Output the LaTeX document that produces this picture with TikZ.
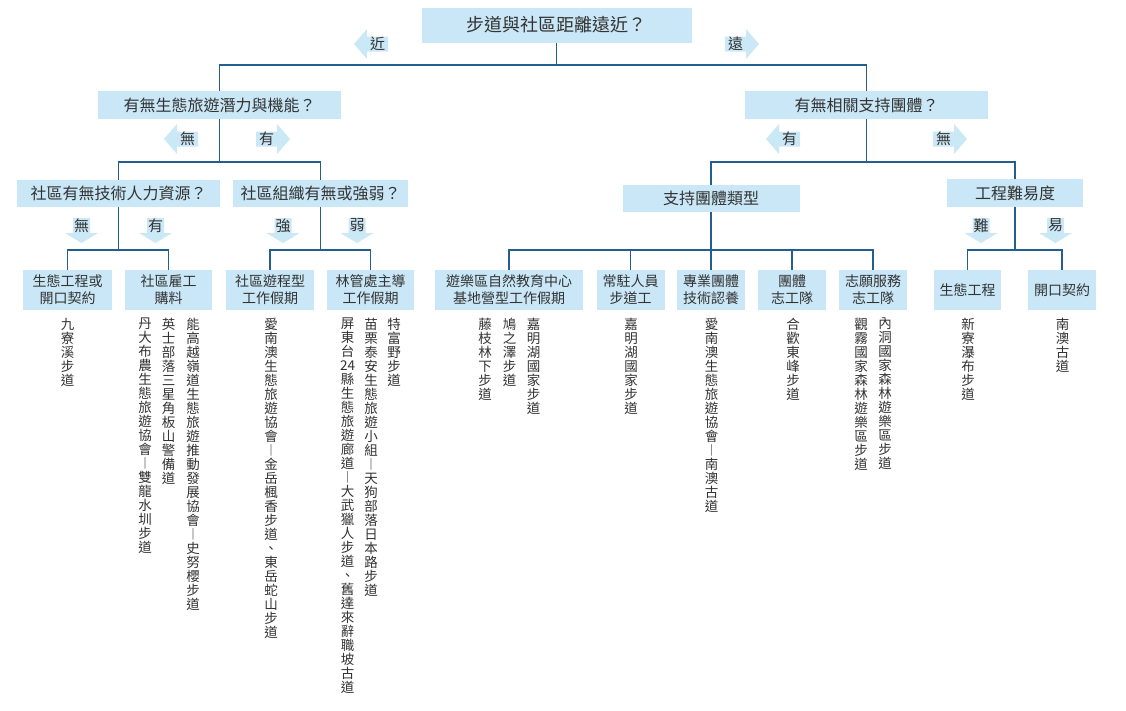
\documentclass[tikz,border=0pt]{standalone}
\usepackage{fontspec}
\newfontfamily\cjk{Noto Sans CJK TC}
\definecolor{boxblue}{HTML}{C9E7F6}
\definecolor{arrowblue}{HTML}{CBE8F7}
\definecolor{linkblue}{HTML}{235E8E}
\definecolor{textgray}{HTML}{333333}
% one column of vertical text, one character per line
\def\shuend{}
\def\shuloop#1{\ifx\shuend#1\else\hbox to 13.5pt{\hss#1\hss}\expandafter\shuloop\fi}
\newcommand\shu[1]{\vtop{\baselineskip=14pt\lineskiplimit=-20pt\shuloop#1\shuend}}
\tikzset{
  box/.style={fill=boxblue,text=textgray,inner sep=0pt,font=\cjk\fontsize{16}{19}\selectfont},
  leaf/.style={box,minimum height=40pt,align=center,font=\cjk\fontsize{14}{17}\selectfont},
  link/.style={draw=linkblue,line width=1.2pt},
  albl/.style={text=textgray,inner sep=0pt,font=\cjk\fontsize{15}{15}\selectfont},
  col/.style={anchor=north,text=textgray,inner sep=0pt,font=\cjk\fontsize{13.5}{14}\selectfont},
  larrow/.style={insert path={++(0,-7.5) -- ++(-21,0) -- ++(0,-7.5) -- ++(-13,15) -- ++(13,15) -- ++(0,-7.5) -- ++(21,0) -- cycle}},
  rarrow/.style={insert path={++(0,-7.5) -- ++(21,0) -- ++(0,-7.5) -- ++(13,15) -- ++(-13,15) -- ++(0,-7.5) -- ++(-21,0) -- cycle}},
  darrow/.style={insert path={++(-8.5,0) -- ++(0,15) -- ++(-8,0) -- ++(16.5,10) -- ++(16.5,-10) -- ++(-8,0) -- ++(0,-15) -- cycle}}
}
\begin{document}
\begin{tikzpicture}[x=1pt,y=-1pt]
\path[use as bounding box,fill=white](0,0)rectangle(1126,710);
% questions
\node[box,minimum width=270pt,minimum height=35pt,font=\cjk\fontsize{18}{20}\selectfont](root)at(556.5,25){步道與社區距離遠近？};
\node[box,minimum width=243pt,minimum height=28pt](q1)at(219.5,105){有無生態旅遊潛力與機能？};
\node[box,minimum width=243pt,minimum height=28pt](q2)at(866.5,105){有無相關支持團體？};
\node[box,minimum width=203pt,minimum height=27pt](q3)at(118.5,193.5){社區有無技術人力資源？};
\node[box,minimum width=175pt,minimum height=27pt](q4)at(320.5,193.5){社區組織有無或強弱？};
\node[box,minimum width=177pt,minimum height=27pt](q5)at(711,198.5){支持團體類型};
\node[box,minimum width=136pt,minimum height=28pt](q6)at(1015,193){工程難易度};
% answers
\node[leaf,minimum width=89pt](a1)at(67.5,290){生態工程或\\開口契約};
\node[leaf,minimum width=87pt](a2)at(168.5,290){社區雇工\\購料};
\node[leaf,minimum width=88pt](a3)at(270,290){社區遊程型\\工作假期};
\node[leaf,minimum width=87pt](a4)at(370.5,290){林管處主導\\工作假期};
\node[leaf,minimum width=148pt](a5)at(509,290){遊樂區自然教育中心\\基地營型工作假期};
\node[leaf,minimum width=68pt](a6)at(630.5,290){常駐人員\\步道工};
\node[leaf,minimum width=68pt](a7)at(711,290){專業團體\\技術認養};
\node[leaf,minimum width=68pt](a8)at(792,290){團體\\志工隊};
\node[leaf,minimum width=68pt](a9)at(873,290){志願服務\\志工隊};
\node[leaf,minimum width=67pt](a10)at(967.5,290){生態工程};
\node[leaf,minimum width=68pt](a11)at(1062,290){開口契約};
% connectors
\coordinate(j0)at(556.5,65);\coordinate(j1)at(219.5,162);\coordinate(j2)at(866.5,162);
\coordinate(j3)at(118.5,250);\coordinate(j4)at(320.5,250);\coordinate(j5)at(711,250);\coordinate(j6)at(1015,250);
\draw[link](root.south)--(j0)-|(q1.north);\draw[link](j0)-|(q2.north);
\draw[link](q1.south)--(j1)-|(q3.north);\draw[link](j1)-|(q4.north);
\draw[link](q2.south)--(j2)-|(q5.north);\draw[link](j2)-|(q6.north);
\draw[link](q3.south)--(j3)-|(a1.north);\draw[link](j3)-|(a2.north);
\draw[link](q4.south)--(j4)-|(a3.north);\draw[link](j4)-|(a4.north);
\draw[link](q5.south)--(j5)-|(a5.north);\draw[link](j5)-|(a6.north);\draw[link](j5)--(a7.north);\draw[link](j5)-|(a8.north);\draw[link](j5)-|(a9.north);
\draw[link](q6.south)--(j6)-|(a10.north);\draw[link](j6)-|(a11.north);
% arrows
\fill[arrowblue](388,44)[larrow];\node[albl](jin)at(377.5,44){近};
\fill[arrowblue](725,44)[rarrow];\node[albl](yuan)at(735.5,44){遠};
\fill[arrowblue](198,139)[larrow];\node[albl](wu1)at(187.5,139){無};
\fill[arrowblue](256,139)[rarrow];\node[albl](you1)at(266.5,139){有};
\fill[arrowblue](800,139)[larrow];\node[albl](you2)at(789.5,139){有};
\fill[arrowblue](933,139)[rarrow];\node[albl](wu2)at(943.5,139){無};
\fill[arrowblue](81.5,218)[darrow];\node[albl](wu3)at(81.5,225.5){無};
\fill[arrowblue](155.5,218)[darrow];\node[albl](you3)at(155.5,225.5){有};
\fill[arrowblue](283,218)[darrow];\node[albl](qiang)at(283,225.5){強};
\fill[arrowblue](357,218)[darrow];\node[albl](ruo)at(357,225.5){弱};
\fill[arrowblue](981,218)[darrow];\node[albl](nan)at(981,225.5){難};
\fill[arrowblue](1055.5,218)[darrow];\node[albl](yi)at(1055.5,225.5){易};
% trails
\node[col](t1)at(67.5,318){\shu{九寮溪步道}};
\node[col](t2)at(193,318){\shu{能高越嶺道生態旅遊推動發展協會︱史努櫻步道}};
\node[col](t3)at(168.5,318){\shu{英士部落三星角板山警備道}};
\node[col](t4)at(145,318){\shu{丹大布農生態旅遊協會︱雙龍水圳步道}};
\node[col](t5)at(271,318){\shu{愛南澳生態旅遊協會︱金岳楓香步道、東岳蛇山步道}};
\node[col](t6)at(394,318){\shu{特富野步道}};
\node[col](t7)at(371,318){\shu{苗栗泰安生態旅遊小組︱天狗部落日本路步道}};
\node[col](t8)at(347.5,318){\shu{屏東台{24}縣生態旅遊廊道︱大武獵人步道、舊達來辭職坡古道}};
\node[col](t9)at(533.5,318){\shu{嘉明湖國家步道}};
\node[col](t10)at(509.5,318){\shu{鳩之澤步道}};
\node[col](t11)at(485,318){\shu{藤枝林下步道}};
\node[col](t12)at(631,318){\shu{嘉明湖國家步道}};
\node[col](t13)at(711.5,318){\shu{愛南澳生態旅遊協會︱南澳古道}};
\node[col](t14)at(793,318){\shu{合歡東峰步道}};
\node[col](t15)at(885,318){\shu{內洞國家森林遊樂區步道}};
\node[col](t16)at(861,318){\shu{觀霧國家森林遊樂區步道}};
\node[col](t17)at(968,318){\shu{新寮瀑布步道}};
\node[col](t18)at(1062.5,318){\shu{南澳古道}};
\end{tikzpicture}
\end{document}
